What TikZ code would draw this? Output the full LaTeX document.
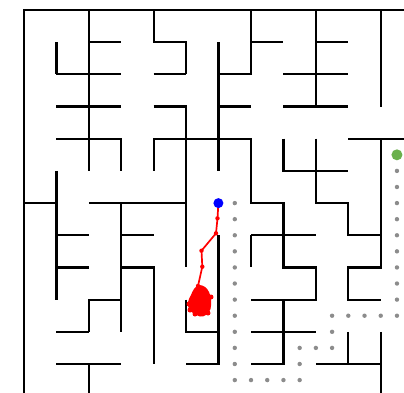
\documentclass[tikz,border=0pt]{standalone}
\begin{document}
\begin{tikzpicture}[x=1pt,y=-1pt,
  wall/.style={line width=2.2pt,line join=miter},
  pathdot/.style={fill=gray!90},
  redline/.style={red,line width=1.7pt,line join=round}]
\useasboundingbox (0,0) rectangle (404,392);
\fill[white] (0,0) rectangle (404,392);
\clip (0,0) rectangle (404,392);
\begin{scope}[xshift=24pt,yshift=-10pt,x=32.43pt,y=-32.18pt]
% outer walls
\draw[wall] (0,12.5)--(0,0)--(12.5,0);
% interior walls
\draw[wall] (2,0)--(2,5);
\draw[wall] (2,1)--(3,1);
\draw[wall] (1,1)--(1,2);
\draw[wall] (1,2)--(3,2);
\draw[wall] (1,3)--(3,3);
\draw[wall] (1,4)--(3,4)--(3,5);
\draw[wall] (1,5)--(1,9);
\draw[wall] (4,0)--(4,1)--(5,1)--(5,2);
\draw[wall] (4,2)--(5,2);
\draw[wall] (4,3)--(5,3)--(5,8);
\draw[wall] (4,5)--(4,4)--(7,4)--(7,6)--(8,6)--(8,8)--(9,8)--(9,9)--(7,9);
\draw[wall] (7,0)--(7,2)--(6,2);
\draw[wall] (7,1)--(8,1);
\draw[wall] (6,1)--(6,5);
\draw[wall] (6,3)--(7,3);
\draw[wall] (9,0)--(9,3);
\draw[wall] (9,1)--(10,1);
\draw[wall] (8,2)--(10,2);
\draw[wall] (8,3)--(10,3);
\draw[wall] (11,0)--(11,3);
\draw[wall] (8,4)--(8,5)--(10,5);
\draw[wall] (9,4)--(9,6)--(10,6)--(10,7)--(11,7);
\draw[wall] (10,4)--(12.5,4);
\draw[wall] (11,4)--(11,8)--(10,8)--(10,9)--(11,9);
\draw[wall] (7,7)--(9,7);
\draw[wall] (7,7)--(7,8);
\draw[wall] (8,9)--(8,11)--(7,11);
\draw[wall] (7,10)--(9,10);
\draw[wall] (9,11)--(11,11);
\draw[wall] (10,10)--(10,11);
\draw[wall] (11,10)--(11,12.5);
\draw[wall] (0,6)--(1,6);
\draw[wall] (2,6)--(5,6);
\draw[wall] (3,6)--(3,10);
\draw[wall] (1,7)--(2,7);
\draw[wall] (3,7)--(4,7);
\draw[wall] (1,8)--(2,8);
\draw[wall] (3,8)--(4,8)--(4,11);
\draw[wall] (2,10)--(2,9)--(3,9);
\draw[wall] (1,10)--(2,10);
\draw[wall] (1,11)--(3,11);
\draw[wall] (2,11)--(2,12.5);
\draw[wall] (5,9)--(5,10)--(6,10);
\draw[wall] (6,7)--(6,11)--(5,11);
% planned route (gray dots)
\foreach \yy in {6,6.5,...,11.6} \fill[pathdot] (6.5,\yy) circle[radius=2.2pt];
\foreach \xx in {7,7.5,8,8.5} \fill[pathdot] (\xx,11.5) circle[radius=2.2pt];
\foreach \yy in {11,10.5} \fill[pathdot] (8.5,\yy) circle[radius=2.2pt];
\foreach \xx in {9,9.5} \fill[pathdot] (\xx,10.5) circle[radius=2.2pt];
\foreach \yy in {10,9.5} \fill[pathdot] (9.5,\yy) circle[radius=2.2pt];
\foreach \xx in {10,10.5,11,11.5} \fill[pathdot] (\xx,9.5) circle[radius=2.2pt];
\foreach \yy in {5,5.5,...,9.1} \fill[pathdot] (11.5,\yy) circle[radius=2.2pt];
\fill[fill={rgb,255:red,106;green,176;blue,76}] (11.5,4.5) circle[radius=5.5pt];
\end{scope}
% red trajectory
\draw[redline] (218.4,203.1)--(217.5,218.3)--(216,233.3)--(201.5,250.7)--(202.3,266.7)--(198,286);
\foreach \p in {(217.5,218.3),(216,233.3),(201.5,250.7),(202.3,266.7),(198,286)}
  \fill[red] \p circle[radius=2.2pt];
\fill[red] plot[smooth cycle,tension=0.6] coordinates {(199,285) (205,287) (209,292) (211,300) (210.5,309) (206,315) (200,316.5) (193,313) (189,309) (188,302) (191,295) (194,289)};
\foreach \p in {(189,304),(190,310),(195,314),(208,313),(211,297)}
  \fill[red] \p circle[radius=2.5pt];
% agent
\fill[blue] (218.4,203.1) circle[radius=5pt];
\end{tikzpicture}
\end{document}
